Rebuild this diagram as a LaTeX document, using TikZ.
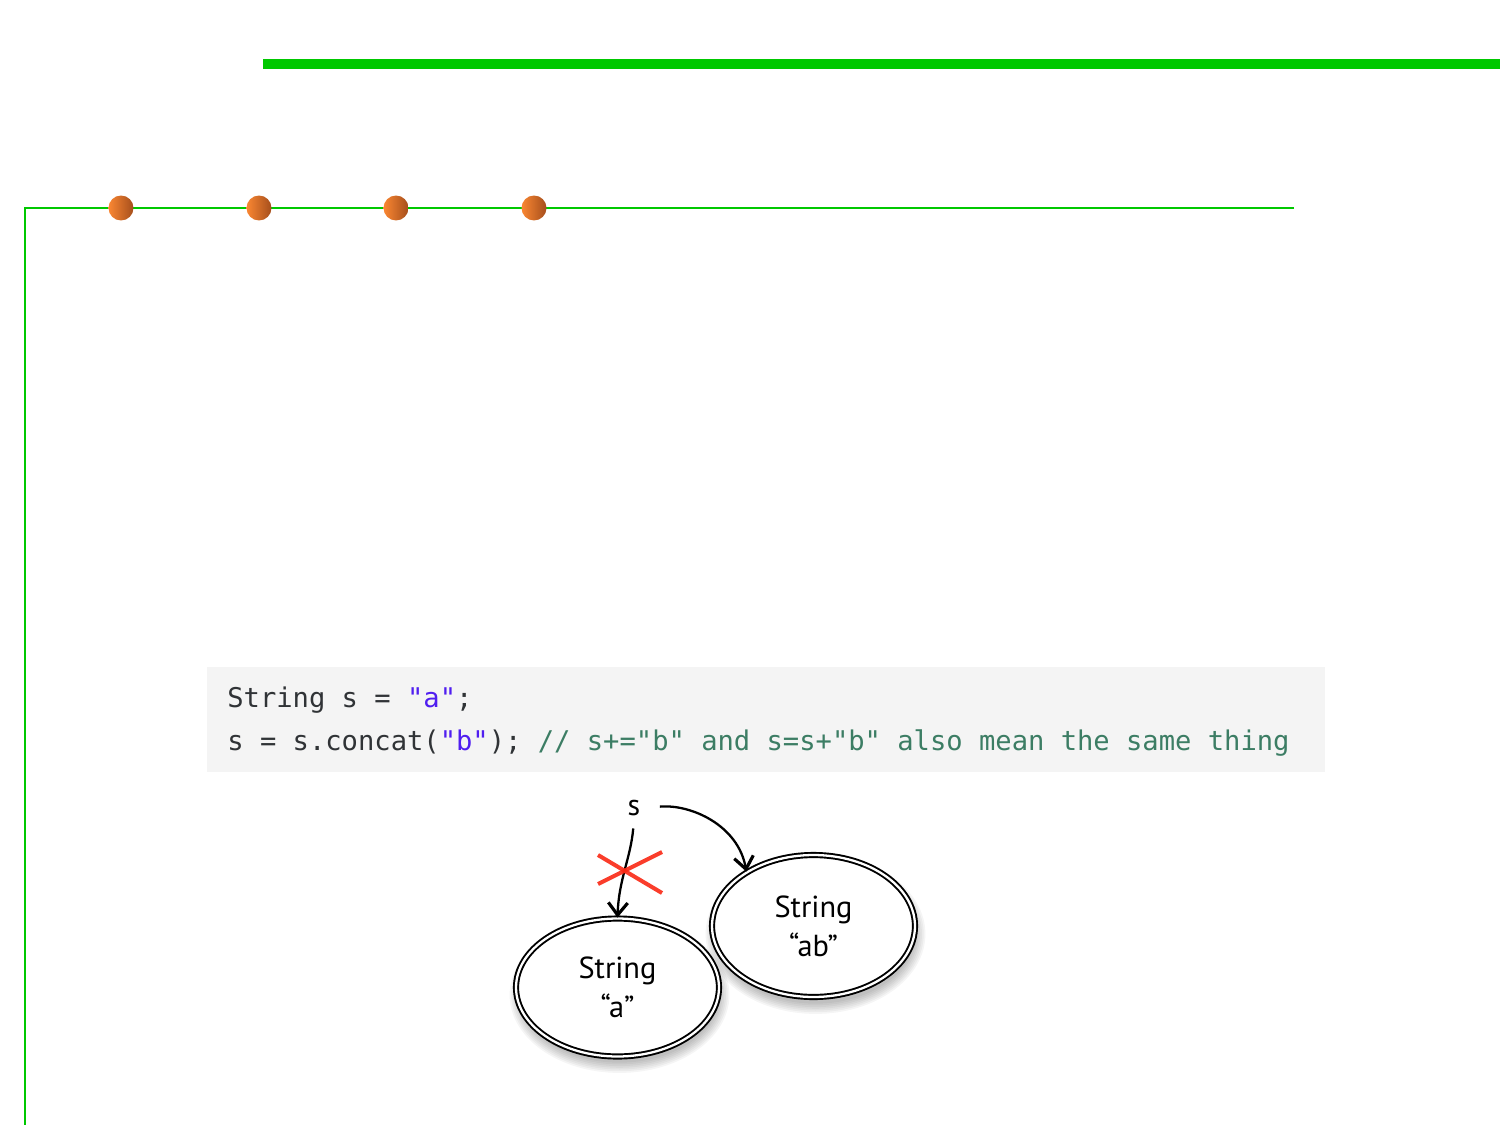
\documentclass[tikz,border=0pt]{standalone}
\usepackage{fontspec}
\usetikzlibrary{shapes.geometric,arrows.meta}
\newfontfamily\codefont{DejaVu Sans Mono}
\newfontfamily\diafont{PT Sans}
\definecolor{grn}{RGB}{0,200,0}
\definecolor{codebg}{RGB}{244,244,244}
\definecolor{codetxt}{RGB}{48,51,54}
\definecolor{codestr}{RGB}{80,30,240}
\definecolor{codecom}{RGB}{60,125,100}
\definecolor{dotl}{RGB}{250,135,50}
\definecolor{dotr}{RGB}{165,78,28}
\definecolor{xred}{RGB}{250,40,20}
\tikzset{
  dot/.style={circle,minimum size=0.5cm,inner sep=0pt,left color=dotl,right color=dotr,draw=none},
  codeline/.style={anchor=base west,inner sep=0pt,font=\codefont\fontsize{15.45}{18}\selectfont,text=codetxt},
  obj/.style={ellipse,draw=black,line width=1.1pt,double=white,double distance=1.3pt,fill=white,inner sep=0pt,align=center,font=\diafont\fontsize{17.3}{21}\selectfont},
  lbl/.style={inner sep=2pt,font=\diafont\fontsize{17}{20}\selectfont},
  arr/.style={line width=1.3pt,-{Straight Barb[length=7pt,width=11pt,line width=1.8pt]}},
  xline/.style={xred,line width=2.3pt,opacity=0.9}
}
\begin{document}
\begin{tikzpicture}[x=0.02cm,y=-0.02cm]
\useasboundingbox (0,0) rectangle (1500,1125);
% top thick green bar
\draw[grn,line width=5.6pt] (263,64) -- (1500,64);
% thin green frame lines
\draw[grn,line width=1.2pt] (1294,208) -- (25,208) -- (25,1125);
% dots
\node[dot] (d1) at (121,208) {};
\node[dot] (d2) at (259,208) {};
\node[dot] (d3) at (396,208) {};
\node[dot] (d4) at (534,208) {};
% code box
\fill[codebg] (207,667) rectangle (1325,772);
\node[codeline] (c1) at (227,707) {String s = \textcolor{codestr}{"a"};};
\node[codeline] (c2) at (227,750) {s = s.concat(\textcolor{codestr}{"b"}); \textcolor{codecom}{// s+="b" and s=s+"b" also mean the same thing}};
% shadows
\foreach \i in {1,...,7}{
  \fill[black,opacity=0.04] (619.5,995) ellipse ({(98+\i*1.7)*0.02cm} and {(66+\i*1.7)*0.02cm});
  \fill[black,opacity=0.04] (815.5,934) ellipse ({(98+\i*1.7)*0.02cm} and {(68+\i*1.7)*0.02cm});
}
% objects
\node[obj,minimum width=4.06cm,minimum height=2.76cm] (a) at (617.5,987.5) {String\\[1pt]“a”};
\node[obj,minimum width=4.06cm,minimum height=2.84cm] (b) at (813.5,926) {String\\[1pt]“ab”};
\node[lbl] (s) at (634,808) {s};
% arrows
\draw[arr,shorten <=9pt] (s.east) to[out=5,in=100] (b.141);
\draw[arr,shorten <=5pt] (s.south) to[out=-95,in=88] (a.north);
% red cross
\draw[xline] (598,855) -- (662,893);
\draw[xline] (598,884) -- (662,852);
\end{tikzpicture}
\end{document}
